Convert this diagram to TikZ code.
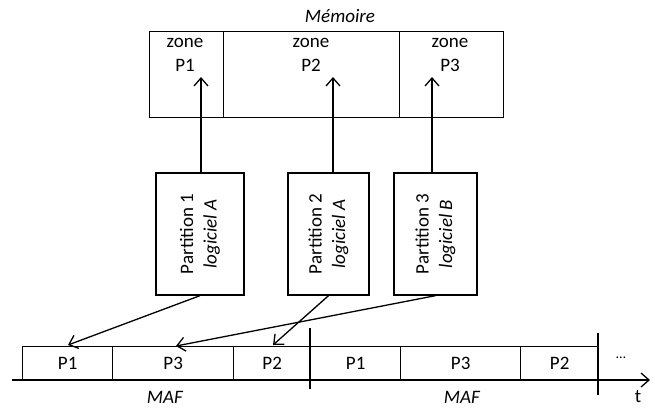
\documentclass[tikz,border=0pt]{standalone}
\usepackage{fontspec}
\setmainfont{Carlito}
\usetikzlibrary{arrows.meta}
\begin{document}
\begin{tikzpicture}[x=1pt,y=-1pt,
  every node/.style={font=\fontsize{19}{23.5}\selectfont, inner sep=0pt},
  box/.style={draw, line width=1.3pt},
  zonebox/.style={box, anchor=north west, minimum height=86pt},
  slot/.style={box, anchor=north west, minimum height=34pt},
  partbox/.style={box, rotate=90, minimum width=122pt, minimum height=84pt, align=center},
  link/.style={line width=1.3pt, -{Straight Barb[length=8pt,width=14pt]}},
]
\useasboundingbox (0,0) rectangle (655,408);

% memory zones
\node (mem) at (340,16) {\textit{Mémoire}};
\node[zonebox, minimum width=74pt]  (z1) at (149,31) {};
\node[zonebox, minimum width=176pt] (z2) at (223,31) {};
\node[zonebox, minimum width=104pt] (z3) at (399,31) {};
\node[align=center] (z1l) at (185,55) {zone\\P1};
\node[align=center] (z2l) at (311,55) {zone\\P2};
\node[align=center] (z3l) at (450,55) {zone\\P3};

% partitions
\node[partbox, minimum height=88pt] (p1) at (200,234) {Partition 1\\\textit{logiciel A}};
\node[partbox, minimum height=81pt] (p2) at (328.5,234) {Partition 2\\\textit{logiciel A}};
\node[partbox, minimum height=83pt] (p3) at (435.5,234) {Partition 3\\\textit{logiciel B}};

% partition -> memory zone
\coordinate (m1) at (201,77);
\coordinate (m2) at (333,77);
\coordinate (m3) at (432,77);
\draw[link] (m1 |- p1.east) -- (m1);
\draw[link] (m2 |- p2.east) -- (m2);
\draw[link] (m3 |- p3.east) -- (m3);

% time line
\node[slot, minimum width=90pt]  (s1) at (22,346) {};
\node[slot, minimum width=121pt] (s2) at (112,346) {};
\node[slot, minimum width=77pt]  (s3) at (233,346) {};
\node[slot, minimum width=90pt]  (s4) at (310,346) {};
\node[slot, minimum width=120pt] (s5) at (400,346) {};
\node[slot, minimum width=78pt]  (s6) at (520,346) {};
\node at (s1) {P1};
\node at (s2) {P3};
\node at (s3) {P2};
\node at (s4) {P1};
\node at (s5) {P3};
\node at (s6) {P2};

\coordinate (ax0) at (12,380);
\coordinate (ax1) at (650,380);
\draw[link] (ax0) -- (ax1);
\coordinate (maf0) at (310,328);
\coordinate (maf1) at (310,389);
\draw[line width=1.3pt] (maf0) -- (maf1);
\coordinate (end0) at (598,333);
\coordinate (end1) at (598,395);
\draw[line width=2.4pt] (end0) -- (end1);
\node (dots) at (621,358) {\fontsize{14}{16}\selectfont\ldots};
\node (t) at (638,397) {t};
\node (maf1l) at (165,397) {\textit{MAF}};
\node (maf2l) at (462,397) {\textit{MAF}};

% partition -> time slot
\coordinate (q1) at (68,345);
\coordinate (q2) at (273,345);
\coordinate (q3) at (176,346);
\draw[link] (p1.west) -- (q1);
\draw[link] (p2.west) -- (q2);
\draw[link] (p3.west) -- (q3);
\end{tikzpicture}
\end{document}
